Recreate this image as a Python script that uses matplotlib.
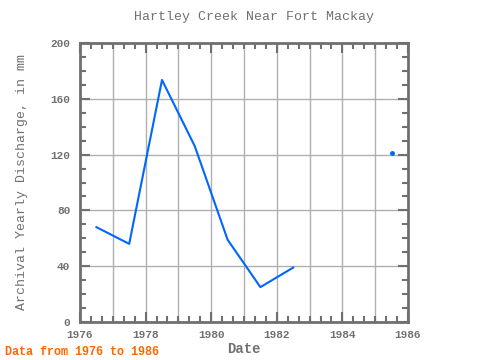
import numpy as np
import matplotlib
matplotlib.use("Agg")
import matplotlib.pyplot as plt
from matplotlib.ticker import MultipleLocator

years = [1976.5, 1977.5, 1978.5, 1979.5, 1980.5, 1981.5, 1982.5, 1983.5, 1984.5, 1985.5]
discharge = [68, 56, 173.5, 126, 59, 25, 39, np.nan, np.nan, 121]

title = "Hartley Creek Near Fort Mackay"
ylabel = "Archival Yearly Discharge, in mm"
xlabel = "Date"
footer = "Data from 1976 to 1986"

plt.rcParams["font.family"] = ["Liberation Mono", "DejaVu Sans Mono"]
gray = "#707070"
blue = "#0066ff"

fig = plt.figure(figsize=(4.8, 3.6), dpi=100)
ax = fig.add_axes([80 / 480, 1 - 322 / 360, 328 / 480, 279 / 360])

ax.plot(years, discharge, color=blue, linewidth=1.5)
# isolated point (no neighbours to connect to)
ax.plot([years[-1]], [discharge[-1]], "o", color=blue, markersize=2.5)

ax.set_xlim(1976, 1986)
ax.set_ylim(0, 200)
ax.xaxis.set_major_locator(MultipleLocator(2))
ax.xaxis.set_minor_locator(MultipleLocator(1 / 3))
ax.yaxis.set_major_locator(MultipleLocator(40))
ax.yaxis.set_minor_locator(MultipleLocator(10))

for x in range(1977, 1986):
    ax.axvline(x, color="#b0b0b0", linewidth=1, zorder=0)
ax.grid(axis="y", color="#b0b0b0", linewidth=1, zorder=0)

ax.tick_params(which="both", direction="in", top=True, right=True, colors=gray,
               labelsize=8, width=1.5)
ax.tick_params(which="major", length=7)
ax.tick_params(which="minor", length=4)
ax.tick_params(axis="x", pad=6)
ax.tick_params(axis="y", pad=7)
for lab in ax.get_xticklabels() + ax.get_yticklabels():
    lab.set_fontweight("bold")
    lab.set_color(gray)

for s in ax.spines.values():
    s.set_color(gray)
    s.set_linewidth(2)

fig.text(254 / 480, 1 - 17 / 360, title, ha="center", va="center", fontsize=9.5, color=gray)
ax.set_xlabel(xlabel, fontsize=10, color=gray, fontweight="bold", labelpad=1)
ax.set_ylabel(ylabel, fontsize=9.5, color=gray, labelpad=16)
fig.text(5 / 480, 1 - 352 / 360, footer, ha="left", va="center", fontsize=8.5,
         color="#ff6600", fontweight="bold")

fig.savefig("out.png", dpi=100)
